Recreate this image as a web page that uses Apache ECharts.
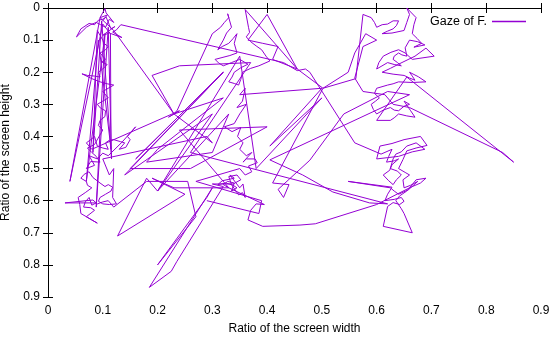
<!DOCTYPE html>
<html>
<head>
    <meta charset="utf-8">
    <title>Gaze of F.</title>
    <script src="https://cdn.jsdelivr.net/npm/echarts@6/dist/echarts.min.js"></script>
</head>
<body style="margin:0">
<div id="main" style="width: 551px;height:340px;"></div>
<script type="text/javascript">
    // tick labels
    var xTicks = ['0', '0.1', '0.2', '0.3', '0.4', '0.5', '0.6', '0.7', '0.8', '0.9'];
    var yTicks = ['0', '0.1', '0.2', '0.3', '0.4', '0.5', '0.6', '0.7', '0.8', '0.9'];

    // gaze path: [x ratio, y ratio]
    var leftTop = [[0.100,0.040],[0.108,0.022],[0.095,0.030],[0.104,0.002],[0.106,0.015],[0.120,0.045],[0.112,0.035],[0.105,0.060],[0.096,0.052],[0.088,0.045],[0.078,0.052],[0.070,0.060],[0.052,0.090],[0.060,0.065],[0.075,0.048],[0.085,0.052],[0.092,0.038],[0.100,0.035],[0.106,0.028],[0.115,0.065],[0.122,0.058],[0.100,0.085],[0.112,0.078],[0.135,0.092],[0.128,0.085],[0.118,0.075],[0.125,0.068],[0.133,0.052]];
    var toRight = [[0.430,0.170],[0.455,0.195],[0.470,0.190],[0.478,0.200]];
    var rightLow = [[0.560,0.420],[0.608,0.455],[0.628,0.440],[0.622,0.462],[0.618,0.480],[0.632,0.476],[0.640,0.470],[0.628,0.488],[0.625,0.500],[0.638,0.508],[0.645,0.520],[0.636,0.535],[0.630,0.550],[0.622,0.538],[0.612,0.520],[0.624,0.505],[0.630,0.470],[0.635,0.455],[0.645,0.448],[0.655,0.430],[0.672,0.420],[0.688,0.440],[0.665,0.448],[0.640,0.462],[0.620,0.466],[0.600,0.470],[0.606,0.430],[0.628,0.422],[0.650,0.410],[0.680,0.400],[0.692,0.428],[0.672,0.436],[0.655,0.445],[0.648,0.472],[0.640,0.500],[0.652,0.512],[0.660,0.520],[0.648,0.535],[0.650,0.560],[0.662,0.552],[0.675,0.540],[0.658,0.566],[0.640,0.580],[0.632,0.570],[0.625,0.560],[0.548,0.540],[0.628,0.558],[0.620,0.580],[0.615,0.600],[0.632,0.596],[0.645,0.590],[0.650,0.602],[0.642,0.612],[0.630,0.606],[0.620,0.618],[0.612,0.680],[0.665,0.700],[0.650,0.640],[0.645,0.625],[0.635,0.600],[0.642,0.585],[0.655,0.570],[0.664,0.552],[0.672,0.535],[0.690,0.530],[0.680,0.545],[0.660,0.560]];
    var bottomLoop = [[0.600,0.612],[0.488,0.672],[0.460,0.676],[0.392,0.680],[0.365,0.660],[0.370,0.630],[0.380,0.610],[0.395,0.612]];
    var midKnot = [[0.330,0.560],[0.320,0.550],[0.328,0.540],[0.340,0.545],[0.335,0.570],[0.345,0.560],[0.338,0.552],[0.325,0.545],[0.310,0.550],[0.318,0.538],[0.340,0.530],[0.332,0.520],[0.350,0.560],[0.356,0.548],[0.360,0.590],[0.355,0.575],[0.348,0.582],[0.335,0.550],[0.330,0.525],[0.345,0.520],[0.352,0.535],[0.338,0.548],[0.300,0.548],[0.320,0.556]];
    var bottomV = [[0.235,0.790],[0.225,0.820],[0.185,0.870],[0.300,0.560],[0.290,0.590],[0.200,0.800],[0.270,0.650],[0.255,0.540],[0.180,0.540]];
    var leftLow = [[0.120,0.620],[0.110,0.600],[0.100,0.604],[0.090,0.610],[0.082,0.598],[0.070,0.600],[0.031,0.607],[0.088,0.607],[0.080,0.614],[0.075,0.590],[0.068,0.604],[0.065,0.620],[0.078,0.622],[0.085,0.630],[0.070,0.650],[0.090,0.670],[0.060,0.640],[0.058,0.612],[0.055,0.590],[0.068,0.575],[0.080,0.560],[0.072,0.552],[0.070,0.540],[0.060,0.530],[0.066,0.518],[0.075,0.510],[0.082,0.528],[0.095,0.545],[0.104,0.556],[0.110,0.550],[0.118,0.558],[0.115,0.570],[0.105,0.580],[0.095,0.590],[0.092,0.602],[0.100,0.610],[0.112,0.612],[0.125,0.610],[0.118,0.590],[0.120,0.500],[0.112,0.520],[0.100,0.470]];
    var crossA = [[0.290,0.400],[0.300,0.420],[0.230,0.330],[0.220,0.340],[0.240,0.320]];
    var leftMid = [[0.080,0.440],[0.070,0.420],[0.078,0.410],[0.085,0.400],[0.090,0.430],[0.100,0.436],[0.110,0.440],[0.105,0.420],[0.112,0.412],[0.120,0.410],[0.132,0.416],[0.140,0.420],[0.130,0.440],[0.142,0.434],[0.150,0.410],[0.145,0.400],[0.160,0.370],[0.135,0.418],[0.110,0.460],[0.100,0.452],[0.090,0.470],[0.075,0.460],[0.085,0.490],[0.070,0.500],[0.078,0.478],[0.095,0.480],[0.088,0.462],[0.080,0.450],[0.072,0.436],[0.085,0.425]];
    var leftBand = [[0.100,0.380],[0.092,0.366],[0.095,0.350],[0.104,0.338],[0.105,0.320],[0.096,0.312],[0.090,0.300],[0.100,0.290],[0.110,0.280],[0.104,0.268],[0.100,0.260],[0.110,0.250],[0.120,0.240],[0.108,0.236],[0.095,0.230],[0.080,0.220],[0.062,0.205],[0.072,0.210],[0.085,0.212],[0.095,0.215],[0.092,0.200],[0.100,0.190],[0.108,0.176],[0.098,0.168],[0.105,0.160],[0.100,0.150],[0.095,0.140],[0.104,0.132],[0.110,0.120],[0.102,0.110],[0.100,0.100],[0.090,0.070],[0.082,0.450],[0.098,0.040],[0.116,0.470],[0.110,0.060],[0.088,0.620],[0.104,0.080],[0.070,0.540],[0.092,0.100],[0.115,0.440],[0.114,0.080],[0.100,0.050],[0.040,0.540],[0.095,0.030],[0.120,0.070],[0.230,0.330],[0.236,0.318],[0.300,0.080]];
    var midTop = [[0.315,0.060],[0.322,0.045],[0.330,0.030],[0.328,0.018],[0.335,0.060],[0.326,0.078],[0.320,0.100],[0.310,0.130],[0.318,0.120],[0.330,0.110],[0.338,0.095],[0.345,0.080],[0.340,0.110],[0.345,0.140],[0.332,0.148],[0.305,0.160],[0.312,0.172],[0.320,0.180],[0.335,0.170],[0.350,0.160],[0.358,0.168],[0.365,0.175],[0.352,0.186],[0.340,0.200],[0.336,0.215],[0.330,0.230],[0.340,0.235],[0.348,0.240],[0.352,0.222],[0.355,0.200],[0.370,0.188],[0.385,0.180],[0.405,0.165],[0.398,0.150],[0.390,0.130],[0.380,0.118],[0.370,0.105],[0.362,0.090],[0.368,0.076],[0.366,0.060],[0.360,0.005],[0.455,0.190],[0.400,0.020],[0.365,0.100],[0.392,0.110],[0.420,0.120],[0.410,0.160],[0.455,0.190],[0.502,0.250],[0.562,0.220]];
    var rightTop = [[0.575,0.020],[0.590,0.030],[0.596,0.045],[0.600,0.060],[0.610,0.052],[0.620,0.050],[0.630,0.040],[0.640,0.040],[0.636,0.055],[0.630,0.065],[0.620,0.072],[0.610,0.080],[0.628,0.078],[0.650,0.070],[0.655,0.045],[0.660,0.020],[0.655,0.000],[0.672,0.030],[0.668,0.052],[0.665,0.080],[0.674,0.095],[0.682,0.110],[0.668,0.122],[0.688,0.115],[0.675,0.105],[0.660,0.100],[0.652,0.124],[0.655,0.150],[0.646,0.146],[0.640,0.140],[0.632,0.150],[0.630,0.160],[0.638,0.170],[0.645,0.180],[0.632,0.176],[0.620,0.170],[0.608,0.182],[0.600,0.190],[0.604,0.170],[0.612,0.150],[0.626,0.138],[0.640,0.130],[0.652,0.140],[0.665,0.160],[0.705,0.150],[0.690,0.125],[0.670,0.150],[0.640,0.175],[0.625,0.188],[0.610,0.200],[0.630,0.206],[0.650,0.210],[0.660,0.218],[0.670,0.225],[0.665,0.212],[0.660,0.200],[0.676,0.214],[0.690,0.230],[0.665,0.232],[0.640,0.230],[0.630,0.236],[0.620,0.240],[0.600,0.250],[0.596,0.266],[0.605,0.280],[0.598,0.290],[0.590,0.300],[0.594,0.316],[0.600,0.330],[0.612,0.318],[0.625,0.310],[0.632,0.318],[0.640,0.320],[0.650,0.306],[0.660,0.300],[0.650,0.290],[0.662,0.320],[0.670,0.340],[0.655,0.336],[0.640,0.330],[0.632,0.342],[0.625,0.350],[0.600,0.350]];
    var diagonal = [[0.655,0.215],[0.850,0.480],[0.830,0.450],[0.660,0.310]];
    var rightMid = [[0.630,0.300],[0.615,0.270],[0.575,0.260],[0.560,0.218],[0.575,0.120],[0.600,0.100],[0.580,0.080],[0.560,0.140],[0.548,0.200],[0.502,0.250],[0.410,0.545],[0.440,0.550],[0.430,0.590],[0.420,0.565],[0.478,0.474],[0.540,0.330],[0.620,0.260],[0.660,0.270]];
    var crossB = [[0.405,0.473],[0.465,0.520],[0.520,0.573],[0.587,0.607],[0.620,0.610],[0.260,0.450],[0.370,0.170],[0.240,0.180],[0.190,0.210],[0.230,0.330],[0.320,0.280],[0.200,0.440],[0.180,0.480],[0.300,0.450],[0.330,0.330],[0.200,0.570],[0.180,0.530],[0.127,0.710],[0.250,0.580],[0.190,0.530],[0.230,0.560],[0.330,0.560],[0.240,0.380],[0.400,0.370],[0.260,0.500],[0.150,0.500],[0.320,0.200]];
    var diagMid = [[0.160,0.470],[0.320,0.200],[0.140,0.520],[0.300,0.330],[0.200,0.570],[0.350,0.150],[0.380,0.500],[0.500,0.280],[0.405,0.430],[0.500,0.250],[0.350,0.270]];
    var midChain = [[0.360,0.250],[0.355,0.290],[0.345,0.310],[0.362,0.300],[0.350,0.330],[0.340,0.360],[0.322,0.370],[0.336,0.385],[0.352,0.372],[0.346,0.400],[0.356,0.420],[0.350,0.440],[0.362,0.460],[0.372,0.450],[0.356,0.480],[0.362,0.470],[0.378,0.470],[0.382,0.482],[0.366,0.492],[0.372,0.510],[0.360,0.520],[0.350,0.500],[0.270,0.540],[0.390,0.600],[0.385,0.640],[0.290,0.600]];

    var gaze = [].concat(leftTop, toRight, rightLow, bottomLoop, midKnot, bottomV, leftLow, crossA,
        leftMid, leftBand, midTop, rightTop, diagonal, rightMid, crossB, diagMid, midChain);

    var myChart = echarts.init(document.getElementById('main'));

    var font = 'Liberation Sans';
    function tickAxis(extra) {
        var a = {
            type: 'value',
            min: 0,
            max: 0.9,
            interval: 0.1,
            splitLine: {show: false},
            axisLine: {show: true, lineStyle: {color: '#000', width: 1}},
            axisTick: {show: true, inside: true, length: 5, lineStyle: {color: '#000'}},
            axisLabel: {show: false}
        };
        for (var k in extra) a[k] = extra[k];
        return a;
    }

    var option = {
        animation: false,
        textStyle: {fontFamily: font},
        grid: {left: 48, right: 10, top: 8, bottom: 43, outerBoundsMode: 'none'},
        legend: {
            data: ['Gaze of F.'],
            right: 20,
            top: 10,
            align: 'right',
            icon: 'rect',
            itemWidth: 34,
            itemHeight: 1.5,
            textStyle: {fontFamily: font, fontSize: 12.5, color: '#000'}
        },
        xAxis: [
            tickAxis({
                position: 'bottom',
                name: 'Ratio of the screen width',
                nameLocation: 'middle',
                nameGap: 26,
                nameTextStyle: {fontFamily: font, fontSize: 12, color: '#000'},
                axisLabel: {
                    show: true, margin: 8, fontFamily: font, fontSize: 12, color: '#000',
                    formatter: function (v) { return xTicks[Math.round(v * 10)]; }
                }
            }),
            tickAxis({position: 'top'})
        ],
        yAxis: [
            tickAxis({
                position: 'left',
                inverse: true,
                name: 'Ratio of the screen height',
                nameLocation: 'middle',
                nameGap: 36,
                nameTextStyle: {fontFamily: font, fontSize: 12, color: '#000'},
                axisLabel: {
                    show: true, margin: 8, fontFamily: font, fontSize: 12, color: '#000',
                    formatter: function (v) { return yTicks[Math.round(v * 10)]; }
                }
            }),
            tickAxis({position: 'right', inverse: true})
        ],
        series: [{
            name: 'Gaze of F.',
            type: 'line',
            xAxisIndex: 0,
            yAxisIndex: 0,
            showSymbol: false,
            symbol: 'none',
            color: '#9400d3',
            lineStyle: {width: 1, color: '#9400d3'},
            data: gaze
        }]
    };
    myChart.setOption(option);
</script>
</body>
</html>
